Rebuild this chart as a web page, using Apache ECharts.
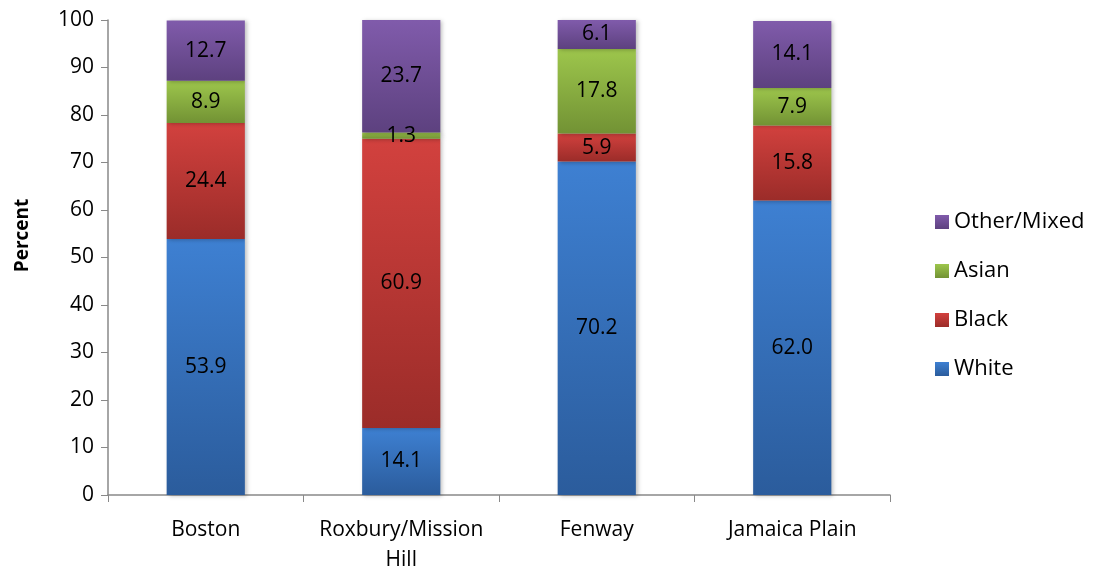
<!DOCTYPE html>
<html>
<head>
<meta charset="utf-8">
<script src="https://cdn.jsdelivr.net/npm/echarts@6/dist/echarts.min.js"></script>
<style>
  html, body { margin: 0; padding: 0; background: #fff; }
  #chart { width: 1096px; height: 573px; }
</style>
</head>
<body>
<div id="chart"></div>
<script>
var categories = ['Boston', 'Roxbury/Mission\nHill', 'Fenway', 'Jamaica Plain'];
var white = [53.9, 14.1, 70.2, 62.0];
var black = [24.4, 60.9, 5.9, 15.8];
var asian = [8.9, 1.3, 17.8, 7.9];
var other = [12.7, 23.7, 6.1, 14.1];
var yTicks = { min: 0, max: 100, interval: 10 };

var font = '"Open Sans", Lato, sans-serif';

// light at top, dark at bottom, like the original
function grad(top, bottom) {
  return new echarts.graphic.LinearGradient(0, 0, 0, 1, [
    { offset: 0, color: top },
    { offset: 1, color: bottom }
  ]);
}

function makeSeries(name, values, top, bottom) {
  return {
    name: name,
    type: 'bar',
    stack: 'total',
    barWidth: '40%',
    data: values,
    itemStyle: {
      color: grad(top, bottom),
      shadowColor: 'rgba(0,0,0,0.25)',
      shadowBlur: 4,
      shadowOffsetX: 2,
      shadowOffsetY: 1
    },
    label: {
      show: true,
      position: 'inside',
      color: '#000',
      fontFamily: font,
      fontSize: 21,
      formatter: function (p) { return p.value.toFixed(1); }
    }
  };
}

var chart = echarts.init(document.getElementById('chart'));
chart.setOption({
  animation: false,
  backgroundColor: '#fff',
  grid: { left: 108, right: 206, top: 20, bottom: 78, outerBoundsMode: 'none' },
  legend: {
    orient: 'vertical',
    left: 930,
    top: 202,
    itemGap: 19,
    itemWidth: 14,
    itemHeight: 14,
    icon: 'rect',
    data: ['Other/Mixed', 'Asian', 'Black', 'White'],
    textStyle: { fontFamily: font, fontSize: 22, color: '#000', lineHeight: 30 }
  },
  xAxis: {
    type: 'category',
    data: categories,
    axisLine: { lineStyle: { color: '#898989', width: 1.5 } },
    axisTick: { show: true, interval: 0, alignWithLabel: false, length: 7, lineStyle: { color: '#898989' } },
    axisLabel: { interval: 0, fontFamily: font, fontSize: 21, color: '#000', margin: 20, lineHeight: 30 }
  },
  yAxis: {
    type: 'value',
    min: yTicks.min,
    max: yTicks.max,
    interval: yTicks.interval,
    name: 'Percent',
    nameLocation: 'middle',
    nameGap: 76,
    nameRotate: 90,
    nameTextStyle: { fontFamily: font, fontSize: 19, fontWeight: 'bold', color: '#000', padding: [0, 0, 0, 44] },
    axisLine: { show: true, lineStyle: { color: '#898989', width: 1.5 } },
    axisTick: { show: true, length: 7, lineStyle: { color: '#898989' } },
    axisLabel: { fontFamily: font, fontSize: 21, color: '#000', margin: 14 },
    splitLine: { show: false }
  },
  series: [
    makeSeries('White', white, '#3e80d2', '#2b5c9c'),
    makeSeries('Black', black, '#d2413e', '#9b2c29'),
    makeSeries('Asian', asian, '#9dc64c', '#729234'),
    makeSeries('Other/Mixed', other, '#805bab', '#5d417f')
  ]
});
</script>
</body>
</html>
